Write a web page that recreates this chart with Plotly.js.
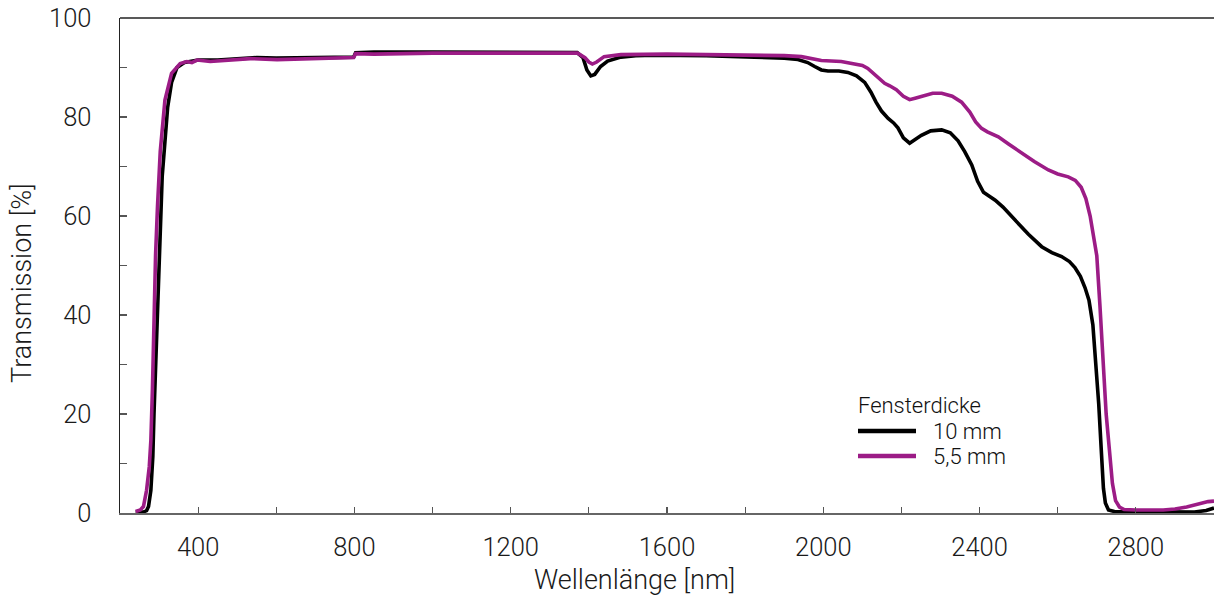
<!DOCTYPE html>
<html>
<head>
<meta charset="utf-8">
<script src="https://cdn.plot.ly/plotly-3.0.1.min.js"></script>
<style>html,body{margin:0;padding:0;background:#fff;}#chart{width:1214px;height:597px;}</style>
</head>
<body>
<div id="chart"></div>
<script>
// Wavelength [nm] and transmission [%] for 10 mm window
const wl10 = [240,260,268,273,279,284,287,291,295,299,303,308,315,322,332,346,365,380,400,450,500,550,600,700,798,803,850,1000,1200,1300,1370,1385,1395,1405,1415,1430,1448,1482,1520,1567,1700,1824,1900,1935,1960,1978,1995,2012,2040,2063,2085,2106,2122,2135,2149,2166,2180,2191,2205,2221,2235,2251,2275,2303,2325,2345,2362,2380,2395,2410,2425,2440,2460,2491,2525,2559,2585,2610,2630,2644,2658,2670,2680,2690,2698,2705,2712,2717,2722,2730,2745,2800,2900,2950,2980,3000];
const t10  = [0.2,0.2,0.5,1.3,4.6,11.4,20,30,40,50,60,68,75,82,87,90,91,91.2,91.5,91.5,91.8,92,91.9,92,92.1,93,93.1,93.1,93.1,93.1,93,92,89.5,88.3,88.6,90.2,91.3,92.1,92.4,92.5,92.4,92.1,91.9,91.6,91,90.2,89.5,89.3,89.3,89,88.3,87,85,83,81.2,79.7,78.8,77.8,75.8,74.7,75.5,76.3,77.2,77.4,76.8,75.2,73,70.3,67,64.8,64,63.2,61.8,59.2,56.3,53.8,52.6,51.8,50.8,49.6,47.8,45.5,43,38,30,22,12,5,2,0.6,0.3,0.3,0.3,0.2,0.5,1.0];

// Wavelength [nm] and transmission [%] for 5,5 mm window
const wl55 = [240,252,260,268,275,279,283,287,291,296,303,315,332,354,371,384,397,431,480,533,602,700,798,803,850,1000,1226,1300,1371,1390,1400,1409,1420,1439,1482,1600,1824,1900,1944,1970,1995,2046,2080,2100,2114,2135,2157,2170,2187,2205,2221,2235,2251,2280,2303,2330,2354,2375,2390,2405,2420,2448,2475,2508,2540,2576,2600,2627,2645,2660,2672,2683,2692,2700,2708,2716,2724,2732,2740,2748,2758,2770,2800,2870,2900,2930,2960,2985,3000];
const t55  = [0.3,0.6,1.3,4.6,9.4,14.7,25,40,52,62,73,83.4,88.8,90.8,91.2,91.0,91.5,91.2,91.5,91.8,91.6,91.8,92,92.8,92.7,92.9,93,93,92.9,92,91.1,90.7,91.1,92.2,92.6,92.7,92.6,92.4,92.2,91.8,91.4,91.2,90.8,90.4,89.8,88.3,86.8,86.3,85.5,84.2,83.5,83.8,84.2,84.8,84.8,84.2,83,81,79,77.7,77,76,74.5,72.7,71,69.3,68.5,67.9,67.2,65.8,63.5,60,56,52,42,30,20,13,6,2.5,1.2,0.7,0.6,0.6,0.8,1.2,1.8,2.3,2.4];

const seriesNames = ['10 mm', '5,5 mm'];
const legendTitle = 'Fensterdicke';
const xTitle = 'Wellenlänge [nm]';
const yTitle = 'Transmission [%]';
const xTickVals = [400, 800, 1200, 1600, 2000, 2400, 2800];
const yTickVals = [0, 20, 40, 60, 80, 100];

const colBlack = '#000000';
const colPurple = '#9c1c86';
const FONT = 'Roboto, "Liberation Sans", Arial, sans-serif';
const txt = '#1a1a1a';
const FW = 300;

const traces = [
  {x: wl10, y: t10, type: 'scatter', mode: 'lines', name: seriesNames[0], line: {color: colBlack, width: 3.6}},
  {x: wl55, y: t55, type: 'scatter', mode: 'lines', name: seriesNames[1], line: {color: colPurple, width: 3.6}}
];

const W = 1214, H = 597, L = 120, R = 0, T = 18, B = 84;
const pw = W - L - R, ph = H - T - B;
function px2x(px){ return (px - L) / pw; }
function py2y(py){ return (H - B - py) / ph; }

const layout = {
  width: W, height: H,
  margin: {l: L, r: R, t: T, b: B, pad: 0},
  paper_bgcolor: '#fff', plot_bgcolor: '#fff',
  showlegend: false,
  font: {family: FONT, color: txt, size: 25, weight: FW},
  xaxis: {
    range: [200, 3000], tickvals: xTickVals, ticktext: xTickVals.map(String),
    ticks: 'inside', ticklen: 6, tickwidth: 1.2, tickcolor: '#555',
    minor: {tickvals: [200,600,1000,1400,1800,2200,2600,3000], ticks: 'inside', ticklen: 6, tickwidth: 1.2, tickcolor: '#555'},
    showline: true, linecolor: '#666', linewidth: 1.6, mirror: false,
    showgrid: false, zeroline: false,
    tickfont: {family: FONT, size: 25.5, color: txt, weight: FW},
    ticklabelstandoff: 11
  },
  yaxis: {
    range: [0, 100], tickvals: yTickVals, ticktext: yTickVals.map(String),
    ticks: 'inside', ticklen: 7, tickwidth: 1.2, tickcolor: '#555',
    minor: {tickvals: [10,30,50,70,90], ticks: 'inside', ticklen: 7, tickwidth: 1.2, tickcolor: '#555'},
    showline: true, linecolor: '#222', linewidth: 1.4,
    showgrid: false, zeroline: false,
    tickfont: {family: FONT, size: 25.5, color: txt, weight: FW},
    ticklabelstandoff: 22
  },
  shapes: [
    {type: 'line', xref: 'paper', yref: 'paper', x0: 0, x1: 1, y0: 1, y1: 1, line: {color: '#222', width: 1.4}},
    {type: 'line', xref: 'paper', yref: 'paper', x0: px2x(858), x1: px2x(916), y0: py2y(431), y1: py2y(431), line: {color: colBlack, width: 4.5}},
    {type: 'line', xref: 'paper', yref: 'paper', x0: px2x(858), x1: px2x(916), y0: py2y(456), y1: py2y(456), line: {color: colPurple, width: 4.5}}
  ],
  annotations: [
    {text: xTitle, xref: 'paper', yref: 'paper', x: px2x(634), y: py2y(580), xanchor: 'center', yanchor: 'middle', showarrow: false, font: {family: FONT, size: 27, color: txt, weight: FW}},
    {text: yTitle, xref: 'paper', yref: 'paper', x: px2x(22), y: py2y(283), xanchor: 'center', yanchor: 'middle', textangle: -90, showarrow: false, font: {family: FONT, size: 27, color: txt, weight: FW}},
    {text: legendTitle, xref: 'paper', yref: 'paper', x: px2x(856), y: py2y(405), xanchor: 'left', yanchor: 'middle', showarrow: false, font: {family: FONT, size: 22, color: '#111', weight: FW}},
    {text: seriesNames[0], xref: 'paper', yref: 'paper', x: px2x(931), y: py2y(431), xanchor: 'left', yanchor: 'middle', showarrow: false, font: {family: FONT, size: 22, color: '#111', weight: FW}},
    {text: seriesNames[1], xref: 'paper', yref: 'paper', x: px2x(931), y: py2y(457), xanchor: 'left', yanchor: 'middle', showarrow: false, font: {family: FONT, size: 22, color: '#111', weight: FW}}
  ]
};

Plotly.newPlot('chart', traces, layout, {staticPlot: true, displayModeBar: false});
</script>
</body>
</html>
